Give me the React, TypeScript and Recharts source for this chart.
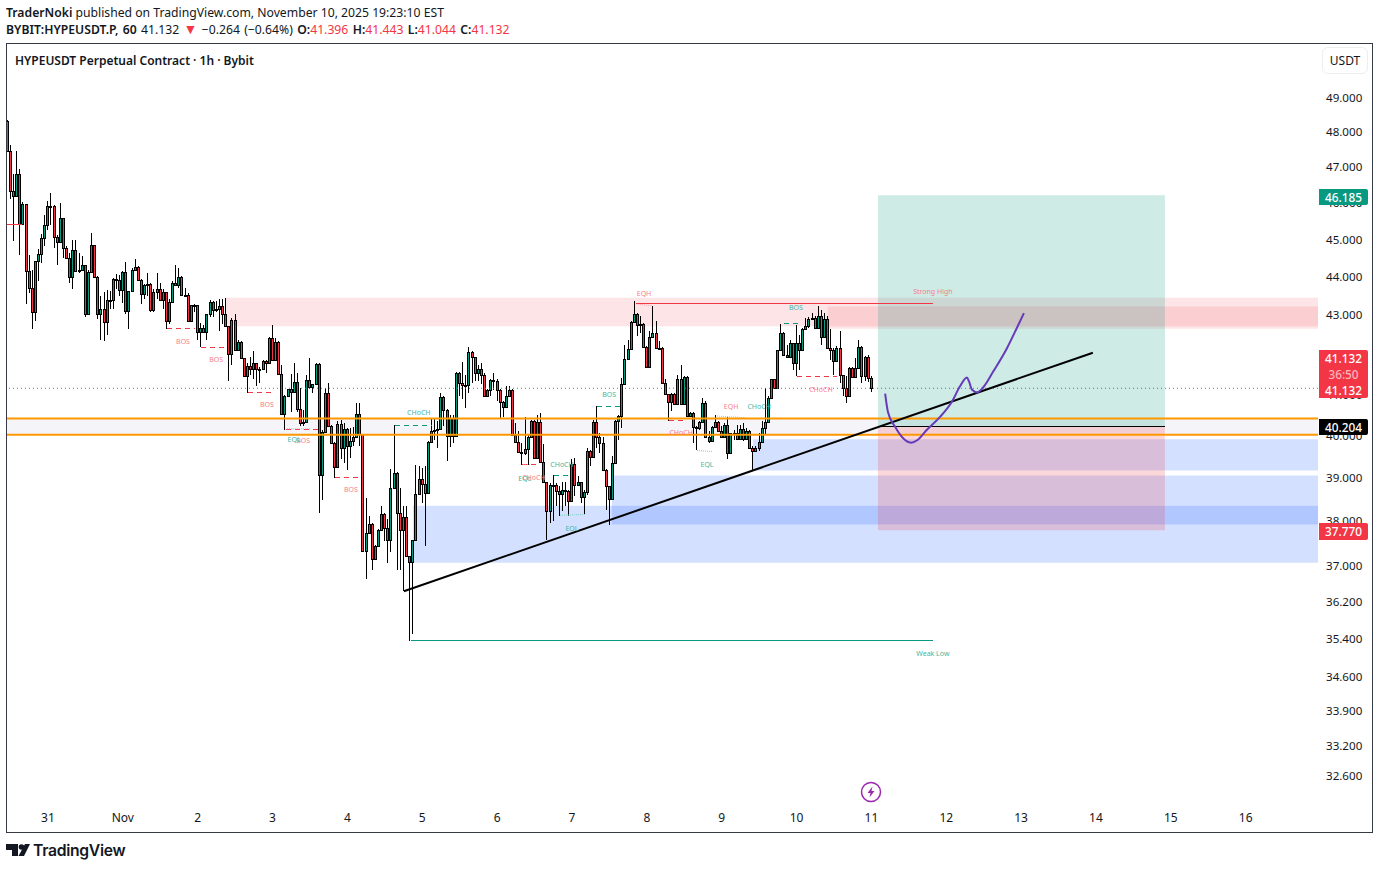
import { Bar, ComposedChart, Line, ReferenceArea, ReferenceDot, ReferenceLine, XAxis, YAxis } from "recharts";

const firstHour = -13; // hours since Oct 31 00:00
const firstOpen = 48.3;

const closes = [
  47.42,46.31,46.18,46.77,45.39,45.94,44.13,43.69,43.06,44.40,
  44.59,45.02,45.36,45.88,45.90,45.05,44.90,45.56,44.76,44.48,
  43.97,44.70,44.13,44.17,44.30,43.00,44.11,44.83,43.97,43.02,
  43.15,42.79,43.37,43.36,43.92,43.89,43.63,44.10,43.09,43.60,
  44.16,44.23,43.90,43.52,43.76,43.80,43.11,43.59,43.67,43.37,
  43.59,42.84,43.33,43.82,43.76,43.98,43.49,43.50,42.83,43.23,
  43.24,42.55,42.64,42.55,43.00,43.33,43.11,43.13,43.22,43.02,
  42.69,41.98,42.85,42.08,42.28,41.88,41.44,41.68,41.61,41.76,
  41.61,41.61,41.82,41.77,42.39,41.84,42.29,41.48,40.50,40.95,
  41.12,41.03,41.29,40.62,40.28,40.30,41.33,41.16,41.24,41.73,
  39.05,40.07,41.02,40.22,39.80,39.23,40.26,39.68,40.14,39.73,
  39.84,39.94,40.50,40.02,37.30,37.71,37.91,37.12,37.41,37.78,
  38.15,37.82,37.55,38.74,39.09,38.17,37.78,38.07,37.19,37.05,
  37.55,38.60,38.96,38.83,38.62,39.83,40.08,40.11,40.14,40.91,
  40.61,39.96,40.40,39.96,41.51,41.26,41.21,41.21,42.04,41.91,
  41.51,41.61,41.47,40.93,41.10,41.33,41.32,41.10,40.79,40.66,
  40.94,41.08,39.99,39.83,39.58,39.56,39.66,39.95,40.34,39.45,
  40.30,39.36,38.87,38.20,38.82,38.80,38.68,38.60,38.69,38.68,
  38.43,39.31,38.80,38.87,38.53,38.64,39.62,39.47,40.31,39.94,
  39.80,39.17,38.78,38.49,39.33,40.34,40.46,41.24,41.86,42.12,
  42.80,43.00,42.72,42.76,42.16,41.67,42.42,42.52,42.14,42.14,
  41.27,40.98,40.79,40.98,40.74,41.35,40.75,41.41,40.46,40.52,
  40.18,40.15,40.31,40.77,39.94,39.84,40.18,40.30,40.08,39.95,
  40.23,39.56,40.04,40.04,39.89,40.14,39.90,40.10,39.69,39.62,
  39.68,39.82,40.16,40.31,40.89,41.35,41.14,42.08,42.52,41.97,
  41.91,42.27,41.76,42.27,42.10,42.62,42.69,42.89,42.90,42.66,
  42.96,42.41,42.88,42.14,42.08,41.80,42.14,41.45,41.13,40.93,
  41.63,41.41,41.63,42.17,41.43,41.91,41.396,41.132,
];

const highs = [
  48.33,47.61,46.77,47.44,46.91,46.00,45.94,44.57,44.17,44.41,
  44.72,45.13,45.63,46.04,46.25,45.92,45.11,45.98,45.56,44.79,
  44.61,44.97,44.97,44.61,44.52,44.30,44.17,45.15,44.83,44.00,
  43.47,43.58,43.63,43.60,43.95,44.06,44.04,44.13,44.37,43.60,
  44.21,44.44,44.26,43.93,43.78,44.08,43.82,43.65,44.08,43.82,
  43.65,43.59,43.39,43.87,44.30,44.21,44.00,43.69,43.56,43.23,
  43.26,43.24,42.78,42.73,43.00,43.37,43.34,43.34,43.39,43.39,
  43.43,42.69,42.90,43.00,42.35,42.31,41.88,41.76,41.92,42.06,
  41.76,41.67,41.84,41.84,42.42,42.73,42.39,42.31,41.71,40.97,
  41.10,41.49,41.76,41.52,41.14,40.60,41.47,41.88,41.24,41.77,
  41.77,40.12,41.14,41.25,40.24,39.82,40.32,40.36,40.28,40.16,
  40.16,40.18,40.76,40.76,40.02,38.51,38.09,37.93,37.44,37.79,
  38.32,38.17,38.02,39.19,40.24,39.11,38.74,38.32,38.32,37.19,
  37.56,39.29,39.26,39.21,39.25,39.84,40.38,40.40,40.32,41.02,
  40.93,40.62,40.48,40.48,41.53,41.53,41.78,41.47,42.17,42.06,
  41.92,41.71,41.75,41.51,41.12,41.36,41.52,41.35,41.12,40.81,
  41.20,41.18,41.12,40.28,40.08,39.80,40.44,39.99,40.36,40.36,
  40.48,40.52,39.78,38.89,38.85,39.05,38.85,38.78,38.89,38.89,
  38.70,39.41,39.45,39.01,38.89,38.70,39.68,39.64,40.36,40.69,
  40.03,39.95,39.19,38.79,39.50,40.36,40.48,41.39,42.22,42.35,
  42.82,43.34,43.04,42.95,42.78,42.18,42.57,43.22,42.82,42.31,
  42.16,41.35,40.98,41.02,41.02,41.47,41.72,41.43,41.43,40.56,
  40.56,40.20,40.32,40.89,40.81,40.08,40.20,40.48,40.32,40.20,
  40.28,40.44,40.03,40.12,40.24,40.24,40.28,40.16,40.12,39.72,
  39.72,40.03,40.32,41.14,40.93,41.37,41.35,42.09,42.76,42.54,
  42.22,42.35,42.27,42.73,42.48,42.65,42.90,42.93,43.04,42.96,
  43.22,43.11,43.04,42.96,42.61,42.14,42.18,42.57,41.47,41.43,
  41.66,41.66,41.88,42.33,42.18,41.94,41.97,41.443,
];

const lows = [
  47.41,46.09,44.93,46.18,44.57,45.39,43.26,43.56,42.63,42.82,
  43.87,44.35,44.81,45.22,45.38,44.75,44.28,44.90,44.48,44.46,
  43.82,43.65,44.13,44.08,44.13,42.94,43.00,44.08,43.94,42.88,
  42.33,42.31,42.48,43.13,43.13,43.65,43.47,43.30,43.00,42.63,
  43.60,44.17,43.87,43.28,43.39,43.47,43.05,43.06,43.39,43.34,
  43.13,42.62,42.76,43.33,43.73,43.69,43.47,43.47,42.82,42.82,
  43.05,42.33,42.17,42.55,42.35,42.94,42.94,43.05,42.57,42.76,
  42.69,41.31,41.71,42.06,42.06,41.88,41.43,41.02,41.46,41.35,
  41.20,41.27,41.59,41.51,41.76,41.80,41.84,41.46,40.48,40.12,
  40.93,40.56,41.02,40.56,40.20,40.20,40.28,41.12,41.01,41.22,
  38.17,38.47,40.04,40.20,39.78,38.98,39.21,39.41,39.33,39.17,
  39.45,39.72,39.92,39.72,37.29,36.67,37.71,36.87,37.11,37.41,
  37.78,37.52,37.03,37.29,38.74,36.88,36.88,36.41,37.19,35.33,
  35.48,37.56,38.58,38.39,37.41,38.62,39.80,39.88,39.68,40.12,
  40.20,39.37,39.70,39.80,39.96,40.94,40.86,40.64,41.02,41.26,
  41.31,41.31,41.24,40.91,40.93,40.93,41.10,40.81,40.38,40.42,
  40.64,40.93,39.98,39.80,39.56,39.29,39.52,39.29,39.92,39.45,
  39.45,39.33,38.85,37.56,37.93,37.97,38.32,38.09,38.20,38.32,
  38.09,38.42,38.55,38.82,38.39,38.13,38.58,39.26,39.47,39.68,
  39.56,39.17,38.24,37.89,38.47,39.33,39.88,40.16,41.23,41.86,
  42.12,42.78,42.44,42.52,42.14,41.66,41.66,42.40,42.14,42.12,
  41.25,40.96,40.34,40.58,40.73,40.73,40.75,40.75,40.46,40.44,
  39.80,39.64,40.12,40.30,39.92,39.80,39.82,40.16,40.06,39.94,
  39.94,39.41,39.55,39.88,39.88,39.89,39.84,39.89,39.68,39.16,
  39.60,39.60,39.80,40.02,40.30,40.89,41.12,41.14,42.06,41.94,
  41.91,41.91,41.59,41.43,41.59,42.09,42.61,42.65,42.88,42.65,
  42.65,42.22,42.41,42.14,41.84,41.47,41.78,41.27,40.93,40.78,
  40.91,41.39,41.40,41.63,41.27,41.31,41.29,41.044,
];

const priceTicks = [49, 48, 47, 46, 45, 44, 43, 42, 41, 40, 39, 38, 37, 36.2, 35.4, 34.6, 33.9, 33.2, 32.6];
const dayLabels = ["31", "Nov", "2", "3", "4", "5", "6", "7", "8", "9", "10", "11", "12", "13", "14", "15", "16"];
const dayTicks = dayLabels.map((_, i) => i * 24);

const hourDomain = [-13.14, 407.18];
const priceDomain = [32.12, 50.58];

const entryPrice = 40.204;
const targetPrice = 46.185;
const stopPrice = 37.77;
const lastPrice = 41.132;

// [hour from, hour to, price top, price bottom]
const supplyZones = [
  [56.75, 250, 43.43, 42.69],
  [250, 407.18, 43.43, 42.63],
  [250, 407.18, 43.2, 42.69],
];
const demandZones = [
  [226, 407.18, 39.89, 39.15],
  [180.8, 407.18, 39.03, 37.9],
  [117, 407.18, 38.33, 37.04],
];

// [hour from, price, hour to, price]
const redDashes = [
  [38.2, 42.63, 47.1, 42.63], [49, 42.16, 57.7, 42.16], [64.1, 41.03, 72.8, 41.03],
  [76.3, 40.12, 87.2, 40.12], [92, 38.98, 101, 38.98], [199.1, 40.34, 204.9, 40.34],
  [240.1, 41.42, 253, 41.42], [152, 39.29, 157.1, 39.29],
];
const greenDashes = [
  [111.3, 40.23, 123.1, 40.23], [176, 40.68, 183.7, 40.68], [236, 42.76, 241.1, 42.76], [162.2, 39.03, 167.4, 39.03],
];
const pinkDots = [[188.5, 43.27, 193.7, 43.22], [214.5, 40.45, 224.1, 40.41]];
const tealDots = [[208.1, 39.62, 212.9, 39.6], [164.2, 38.11, 172.2, 38.13], [76.6, 40.14, 84, 40.14], [152.3, 39.29, 154.5, 39.29]];

const redLabels: [string, number, number][] = [
  ["BOS", 43.3, 42.31], ["BOS", 53.9, 41.84], ["BOS", 70.2, 40.72], ["BOS", 81.8, 39.86], ["BOS", 97.1, 38.7],
  ["CHoCH", 155.8, 38.98], ["CHoCH", 203, 40.05], ["CHoCH", 247.8, 41.1],
  ["EQH", 191.1, 43.55], ["EQH", 219, 40.68], ["Strong High", 283.7, 43.59],
];
const greenLabels: [string, number, number][] = [
  ["EQL", 78.9, 39.89], ["EQL", 152.9, 38.95], ["EQL", 168, 37.82], ["EQL", 211.3, 39.3],
  ["CHoCH", 118.9, 40.53], ["CHoCH", 164.8, 39.3], ["CHoCH", 228, 40.68],
  ["BOS", 179.9, 40.97], ["BOS", 239.8, 43.18], ["Weak Low", 283.7, 35.07],
];

const penHours = [268.4, 269.3, 271.6, 274.1, 276.7, 278.9, 281.8, 286, 289.8, 292.4, 294.6, 295.3, 296.2, 297.9, 299.8, 303, 307.5, 310.7, 312.9];
const penPrices = [41, 40.55, 40.19, 39.92, 39.81, 39.88, 40.12, 40.43, 40.8, 41.18, 41.4, 41.3, 41.1, 41.03, 41.15, 41.54, 42.14, 42.66, 43.03];
const penPoints = penHours.map((hour, i) => ({ hour, pen: penPrices[i] }));

const candles = closes.map((close, i) => {
  const open = i === 0 ? firstOpen : closes[i - 1];
  const high = Math.max(highs[i], open, close);
  const low = Math.min(lows[i], open, close);
  return { hour: firstHour + i, open, high, low, close, range: [low, high] };
});

const GREEN = "#089981";
const RED = "#f23645";
const FONT = "'Noto Sans', sans-serif";

function Candle(props: any) {
  const { x, y, width, height, payload } = props;
  const top = Math.min(y, y + height);
  const full = Math.abs(height);
  const { open, close, high, low } = payload;
  const span = Math.log(high / low) || 1;
  const yAt = (v: number) => top + (full * Math.log(high / v)) / span;
  const cx = Math.round(x + width / 2 - 0.5);
  const bodyTop = Math.round(yAt(Math.max(open, close)));
  const bodyBottom = Math.max(Math.round(yAt(Math.min(open, close))), bodyTop + 1);
  return (
    <g shapeRendering="crispEdges">
      <rect x={cx} y={top} width={1} height={Math.max(full, 1)} fill="#000" />
      <rect x={cx - 1} y={bodyTop} width={3} height={bodyBottom - bodyTop + 1} fill="#000" />
      {bodyBottom - bodyTop > 1 && (
        <rect x={cx} y={bodyTop + 1} width={1} height={bodyBottom - bodyTop - 1} fill={close >= open ? GREEN : RED} />
      )}
    </g>
  );
}

const segment = (s: number[]) => [{ x: s[0], y: s[1] }, { x: s[2], y: s[3] }] as any;

function Tag({ top, height, bg, children }: any) {
  return (
    <div style={{ position: "absolute", left: 1319, top, width: 49, height, background: bg, color: "#fff", fontSize: 11.8, fontWeight: 500, lineHeight: `${height}px`, textAlign: "center", borderRadius: "0 2px 2px 0" }}>
      {children}
    </div>
  );
}

export default function App() {
  return (
    <div style={{ position: "absolute", left: 0, top: 0, width: 1379, height: 869, background: "#fff", fontFamily: FONT, color: "#131722", overflow: "hidden" }}>
      <div style={{ position: "absolute", left: 6, top: 4, fontSize: 12.2, lineHeight: "17px", whiteSpace: "nowrap" }}>
        <b style={{ fontWeight: 600 }}>TraderNoki</b> published on TradingView.com, November 10, 2025 19:23:10 EST
      </div>
      <div style={{ position: "absolute", left: 6, top: 21, fontSize: 12.2, lineHeight: "17px", whiteSpace: "nowrap", wordSpacing: 1.2 }}>
        <b style={{ fontWeight: 600 }}>BYBIT:HYPEUSDT.P, 60</b> 41.132 <span style={{ color: RED, fontSize: 14, lineHeight: "14px" }}>▼</span> −0.264 (−0.64%){" "}
        <b style={{ fontWeight: 600 }}>O:</b><span style={{ color: RED }}>41.396</span>{" "}
        <b style={{ fontWeight: 600 }}>H:</b><span style={{ color: RED }}>41.443</span>{" "}
        <b style={{ fontWeight: 600 }}>L:</b><span style={{ color: RED }}>41.044</span>{" "}
        <b style={{ fontWeight: 600 }}>C:</b><span style={{ color: RED }}>41.132</span>
      </div>

      <div style={{ position: "absolute", left: 0, top: 0 }}>
        <ComposedChart width={1379} height={869} data={candles} margin={{ top: 44, right: 7, bottom: 37, left: 7 }}>
          <XAxis
            dataKey="hour"
            type="number"
            domain={hourDomain}
            allowDataOverflow
            ticks={dayTicks}
            tickFormatter={(v: number) => dayLabels[v / 24]}
            height={32}
            interval={0}
            axisLine={false}
            tickLine={false}
            tick={{ fontSize: 12, fill: "#131722", fontFamily: FONT, dy: 5 }}
          />
          <YAxis
            orientation="right"
            scale="log"
            type="number"
            domain={priceDomain}
            allowDataOverflow
            ticks={priceTicks}
            tickFormatter={(v: number) => v.toFixed(3)}
            width={54}
            interval={0}
            axisLine={false}
            tickLine={false}
            tick={{ fontSize: 11.6, fill: "#131722", fontFamily: FONT, dy: 1 }}
          />

          {supplyZones.map((z, i) => (
            <ReferenceArea key={`s${i}`} x1={z[0]} x2={z[1]} y1={z[2]} y2={z[3]} fill={RED} fillOpacity={0.13} stroke="none" ifOverflow="hidden" />
          ))}
          {demandZones.map((z, i) => (
            <ReferenceArea key={`d${i}`} x1={z[0]} x2={z[1]} y1={z[2]} y2={z[3]} fill="#2962ff" fillOpacity={0.2} stroke="none" ifOverflow="hidden" />
          ))}
          <ReferenceArea x1={hourDomain[0]} x2={hourDomain[1]} y1={40.39} y2={40} fill="#3f3f9f" fillOpacity={0.06} stroke="none" />
          <ReferenceLine y={lastPrice} stroke={RED} strokeDasharray="1 3" />

          {redDashes.map((s, i) => <ReferenceLine key={`rd${i}`} segment={segment(s)} stroke={RED} strokeDasharray="5 4" shapeRendering="crispEdges" />)}
          {greenDashes.map((s, i) => <ReferenceLine key={`gd${i}`} segment={segment(s)} stroke={GREEN} strokeDasharray="5 4" shapeRendering="crispEdges" />)}
          {pinkDots.map((s, i) => <ReferenceLine key={`pd${i}`} segment={segment(s)} stroke="#f7a5ac" strokeDasharray="1 1" />)}
          {tealDots.map((s, i) => <ReferenceLine key={`td${i}`} segment={segment(s)} stroke="#7fcfc2" strokeDasharray="1 1" />)}
          <ReferenceLine segment={segment([-13.1, 45.38, -8.3, 45.38])} stroke={RED} shapeRendering="crispEdges" />
          <ReferenceLine segment={segment([188.5, 43.29, 283.7, 43.29])} stroke={RED} shapeRendering="crispEdges" />
          <ReferenceLine segment={segment([116.4, 35.34, 283.7, 35.34])} stroke={GREEN} shapeRendering="crispEdges" />

          {redLabels.map(([text, hour, price], i) => (
            <ReferenceDot key={`rl${i}`} x={hour} y={price} r={0} stroke="none" label={{ value: text, position: "center", fontSize: 7, fill: "#f7808a", fontFamily: FONT }} />
          ))}
          {greenLabels.map(([text, hour, price], i) => (
            <ReferenceDot key={`gl${i}`} x={hour} y={price} r={0} stroke="none" label={{ value: text, position: "center", fontSize: 7, fill: "#45b5a2", fontFamily: FONT }} />
          ))}

          <Bar dataKey="range" barSize={3} shape={Candle} isAnimationActive={false} />

          <ReferenceLine y={40.39} stroke="#ff9800" strokeWidth={2} />
          <ReferenceLine y={40} stroke="#ff9800" strokeWidth={2} />
          <ReferenceArea x1={266.1} x2={358.1} y1={targetPrice} y2={entryPrice} fill={GREEN} fillOpacity={0.2} stroke="none" />
          <ReferenceArea x1={266.1} x2={358.1} y1={entryPrice} y2={stopPrice} fill={RED} fillOpacity={0.2} stroke="none" />
          <ReferenceLine segment={segment([266.1, entryPrice, 358.1, entryPrice])} stroke="#000" shapeRendering="crispEdges" />
          <ReferenceLine segment={segment([114.1, 36.41, 335, 42.02])} stroke="#000" strokeWidth={2} />

          <Line data={penPoints} dataKey="pen" type="monotone" stroke="#673ab7" strokeWidth={2} dot={false} isAnimationActive={false} />
        </ComposedChart>
      </div>

      <div style={{ position: "absolute", left: 6, top: 43, width: 1365, height: 788, border: "1px solid #363a45", pointerEvents: "none" }} />
      <div style={{ position: "absolute", left: 15, top: 52, fontSize: 12, fontWeight: 600, lineHeight: "17px", whiteSpace: "nowrap" }}>
        HYPEUSDT Perpetual Contract · 1h · Bybit
      </div>
      <div style={{ position: "absolute", left: 1322, top: 47, width: 44, height: 25, border: "1px solid #eceef2", borderRadius: 6, fontSize: 12, lineHeight: "25px", textAlign: "center", background: "#fff" }}>
        USDT
      </div>

      <Tag top={189} height={16} bg={GREEN}>46.185</Tag>
      <div style={{ position: "absolute", left: 1319, top: 350, width: 49, height: 48, background: RED, color: "#fff", fontSize: 11.8, fontWeight: 500, textAlign: "center", lineHeight: "16px", borderRadius: "0 2px 2px 0" }}>
        <div>41.132</div>
        <div style={{ color: "#fbb4ba" }}>36:50</div>
        <div>41.132</div>
      </div>
      <Tag top={419} height={16} bg="#000">40.204</Tag>
      <Tag top={523} height={17} bg={RED}>37.770</Tag>

      <svg width={24} height={24} style={{ position: "absolute", left: 859, top: 780 }}>
        <circle cx={12} cy={12} r={9.5} fill="#fff" stroke="#9c27b0" strokeWidth={1.5} />
        <path d="M13.5 6.5 L8.5 13 H11.5 L10.5 17.5 L15.5 11 H12.5 Z" fill="#9c27b0" />
      </svg>

      <svg width={24} height={14} style={{ position: "absolute", left: 6, top: 843 }}>
        <path d="M0 1 H12 V13 H6 V7 H0 Z" fill="#131722" />
        <circle cx={15.5} cy={4} r={2.8} fill="#131722" />
        <path d="M19 1 H24 L18 13 H12.5 Z" fill="#131722" />
      </svg>
      <div style={{ position: "absolute", left: 33, top: 840, fontFamily: "Inter, sans-serif", fontSize: 15.7, fontWeight: 600, lineHeight: "22px", letterSpacing: -0.3 }}>
        TradingView
      </div>
    </div>
  );
}
